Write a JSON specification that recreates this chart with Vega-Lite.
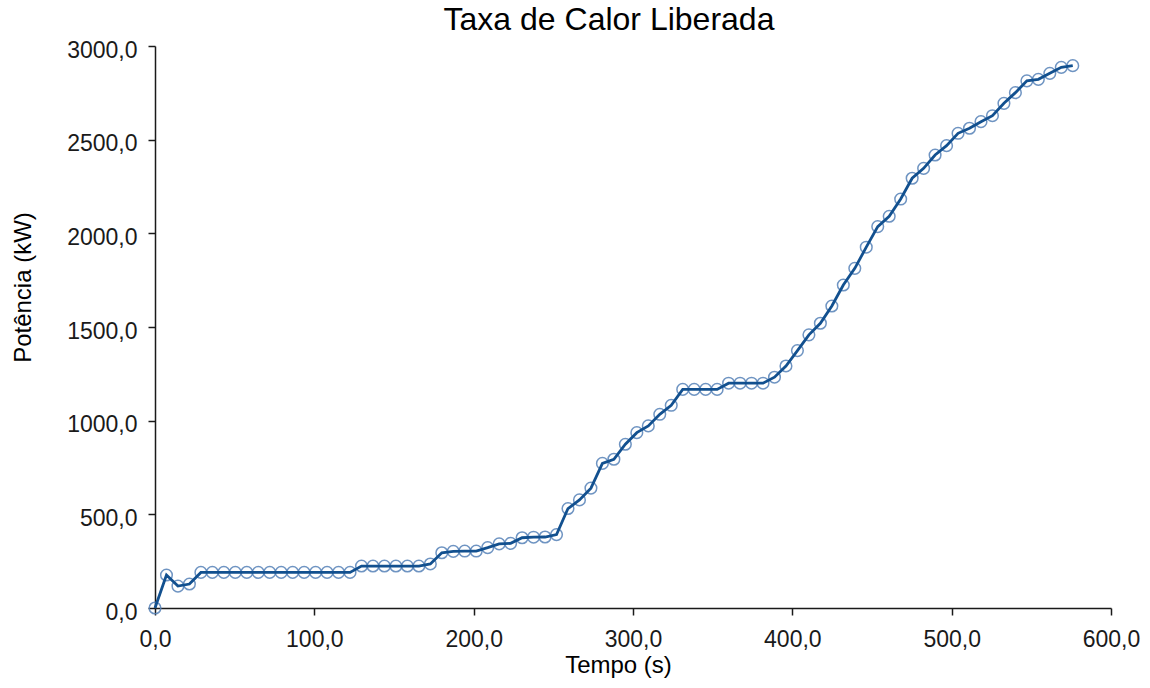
{
  "$schema": "https://vega.github.io/schema/vega-lite/v6.json",
  "width": 956,
  "height": 562,
  "autosize": "none",
  "padding": {"left": 155, "top": 46, "right": 39, "bottom": 80},
  "background": "white",
  "title": {
    "text": "Taxa de Calor Liberada",
    "anchor": "middle",
    "dx": -24,
    "dy": 23,
    "offset": 0,
    "baseline": "alphabetic",
    "font": "Liberation Sans",
    "fontSize": 32,
    "fontWeight": "normal",
    "color": "#000000"
  },
  "config": {
    "view": {"stroke": null},
    "axis": {
      "grid": false,
      "labelFont": "Liberation Sans",
      "labelFontSize": 23,
      "labelColor": "#1a1a1a",
      "labelFlush": false,
      "labelOverlap": false,
      "titleFont": "Liberation Sans",
      "titleFontSize": 24,
      "titleFontWeight": "normal",
      "titleColor": "#000000",
      "domainColor": "#1a1a1a",
      "domainWidth": 1.5,
      "tickColor": "#1a1a1a",
      "tickWidth": 1.5,
      "tickSize": 7
    }
  },
  "data": {
    "values": [
      {"t": 0, "p": 0}, {"t": 7.2, "p": 176}, {"t": 14.4, "p": 117}, {"t": 21.6, "p": 128},
      {"t": 28.8, "p": 190}, {"t": 36, "p": 190}, {"t": 43.2, "p": 190}, {"t": 50.4, "p": 190},
      {"t": 57.6, "p": 190}, {"t": 64.8, "p": 190}, {"t": 72, "p": 190}, {"t": 79.2, "p": 190},
      {"t": 86.4, "p": 190}, {"t": 93.6, "p": 190}, {"t": 100.8, "p": 190}, {"t": 108, "p": 190},
      {"t": 115.2, "p": 190}, {"t": 122.4, "p": 190}, {"t": 129.6, "p": 224}, {"t": 136.8, "p": 224},
      {"t": 144, "p": 224}, {"t": 151.2, "p": 224}, {"t": 158.4, "p": 224}, {"t": 165.6, "p": 224},
      {"t": 172.8, "p": 235}, {"t": 180, "p": 295}, {"t": 187.2, "p": 302}, {"t": 194.4, "p": 304},
      {"t": 201.6, "p": 304}, {"t": 208.8, "p": 322}, {"t": 216, "p": 342}, {"t": 223.2, "p": 345},
      {"t": 230.4, "p": 375}, {"t": 237.6, "p": 378}, {"t": 244.8, "p": 379}, {"t": 252, "p": 392},
      {"t": 259.2, "p": 531}, {"t": 266.4, "p": 577}, {"t": 273.6, "p": 640}, {"t": 280.8, "p": 772},
      {"t": 288, "p": 794}, {"t": 295.2, "p": 874}, {"t": 302.4, "p": 936}, {"t": 309.6, "p": 972},
      {"t": 316.8, "p": 1034}, {"t": 324, "p": 1082}, {"t": 331.2, "p": 1167}, {"t": 338.4, "p": 1167},
      {"t": 345.6, "p": 1167}, {"t": 352.8, "p": 1167}, {"t": 360, "p": 1200}, {"t": 367.2, "p": 1200},
      {"t": 374.4, "p": 1200}, {"t": 381.6, "p": 1200}, {"t": 388.8, "p": 1232}, {"t": 396, "p": 1292},
      {"t": 403.2, "p": 1374}, {"t": 410.4, "p": 1458}, {"t": 417.6, "p": 1520}, {"t": 424.8, "p": 1612},
      {"t": 432, "p": 1724}, {"t": 439.2, "p": 1813}, {"t": 446.4, "p": 1926}, {"t": 453.6, "p": 2036},
      {"t": 460.8, "p": 2091}, {"t": 468, "p": 2183}, {"t": 475.2, "p": 2294}, {"t": 482.4, "p": 2347},
      {"t": 489.6, "p": 2418}, {"t": 496.8, "p": 2468}, {"t": 504, "p": 2534}, {"t": 511.2, "p": 2561},
      {"t": 518.4, "p": 2596}, {"t": 525.6, "p": 2628}, {"t": 532.8, "p": 2694}, {"t": 540, "p": 2751},
      {"t": 547.2, "p": 2814}, {"t": 554.4, "p": 2822}, {"t": 561.6, "p": 2854}, {"t": 568.8, "p": 2886},
      {"t": 576, "p": 2895}
    ]
  },
  "encoding": {
    "x": {
      "field": "t",
      "type": "quantitative",
      "scale": {"domain": [0, 600], "nice": false, "zero": false},
      "axis": {
        "title": "Tempo (s)",
        "values": [0, 100, 200, 300, 400, 500, 600],
        "labelExpr": "replace(format(datum.value, '.1f'), '.', ',')",
        "labelPadding": 13,
        "titleX": 463,
        "titleY": 64,
        "titleBaseline": "alphabetic",
        "titleAnchor": null
      }
    },
    "y": {
      "field": "p",
      "type": "quantitative",
      "scale": {"domain": [0, 3000], "nice": false},
      "axis": {
        "title": "Potência (kW)",
        "values": [0, 500, 1000, 1500, 2000, 2500, 3000],
        "labelExpr": "replace(format(datum.value, '.1f'), '.', ',')",
        "labelPadding": 11,
        "labelOffset": 4,
        "titleX": -132,
        "titleY": 241,
        "titleBaseline": "middle",
        "titleAngle": 270
      }
    }
  },
  "layer": [
    {
      "mark": {"type": "point", "filled": false, "size": 135, "strokeWidth": 1.5, "color": "#5682b8", "opacity": 0.85}
    },
    {
      "mark": {"type": "line", "color": "#12508f", "strokeWidth": 2.8}
    }
  ]
}
